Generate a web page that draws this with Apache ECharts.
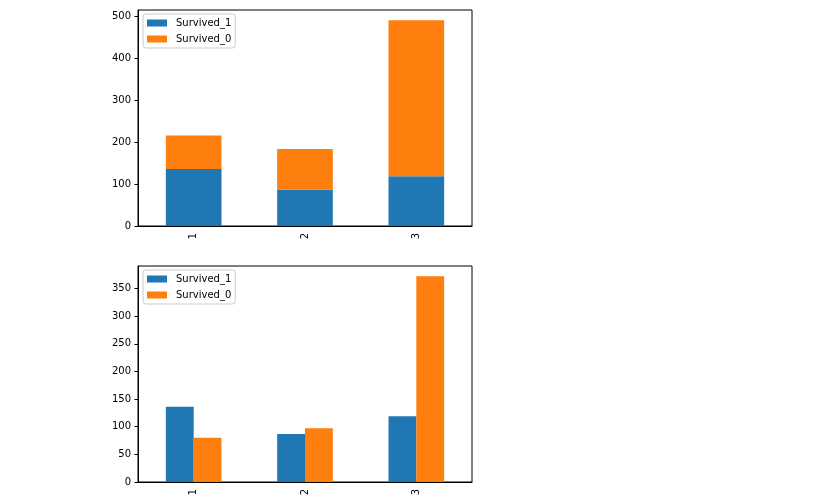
<!DOCTYPE html>
<html>
<head>
<meta charset="utf-8">
<script src="https://cdn.jsdelivr.net/npm/echarts@6/dist/echarts.min.js"></script>
<style>
  html, body { margin: 0; padding: 0; background: #fff; }
  #chart { width: 827px; height: 501px; }
</style>
</head>
<body>
<div id="chart"></div>
<script>
const categories = ['1', '2', '3']
const survived1 = [136, 87, 119]
const survived0 = [80, 97, 372]
const stackedTicks = [0, 100, 200, 300, 400, 500]
const groupedTicks = [0, 50, 100, 150, 200, 250, 300, 350]

const BLUE = '#1f77b4'
const ORANGE = '#ff7f0e'
const FONT = 'DejaVu Sans'

const stackedTotals = categories.map((_, i) => survived1[i] + survived0[i])
const stackedMax = Math.max(...stackedTotals) * 1.05
const groupedMax = Math.max(...survived1, ...survived0) * 1.05

const chart = echarts.init(document.getElementById('chart'))

const xAxisFor = gridIndex => ({
  type: 'category',
  gridIndex,
  data: categories,
  axisLine: { lineStyle: { color: '#000', width: 1 } },
  axisTick: { alignWithLabel: true, length: 3.5, lineStyle: { color: '#000' } },
  axisLabel: { rotate: 90, color: '#000', fontFamily: FONT, fontSize: 10, margin: 7 }
})

const yAxisFor = (gridIndex, max, ticks) => ({
  type: 'value',
  gridIndex,
  min: 0,
  max,
  axisLine: { show: true, lineStyle: { color: '#000', width: 1 } },
  axisTick: { show: true, length: 3.5, customValues: ticks, lineStyle: { color: '#000' } },
  axisLabel: { customValues: ticks, color: '#000', fontFamily: FONT, fontSize: 10, margin: 7 },
  splitLine: { show: false }
})

const legendFor = top => ({
  orient: 'vertical',
  left: 143,
  top,
  padding: [3, 4, 3, 4],
  itemWidth: 20,
  itemHeight: 7,
  itemGap: 4,
  borderColor: '#ccc',
  borderWidth: 1,
  borderRadius: 3,
  backgroundColor: 'rgba(255,255,255,0.8)',
  textStyle: { color: '#000', fontFamily: FONT, fontSize: 10, lineHeight: 12, padding: [0, 0, 0, 4] },
  icon: 'rect',
  selectedMode: false
})

const option = {
  animation: false,
  backgroundColor: '#fff',
  grid: [
    { left: 138, top: 10, width: 334, height: 216, show: true, borderColor: '#000', borderWidth: 1, backgroundColor: 'transparent' },
    { left: 138, top: 266, width: 334, height: 216, show: true, borderColor: '#000', borderWidth: 1, backgroundColor: 'transparent' }
  ],
  legend: [
    { ...legendFor(14), data: ['Survived_1', 'Survived_0'] },
    { ...legendFor(270), data: ['Survived_1 ', 'Survived_0 '], formatter: n => n.trim() }
  ],
  xAxis: [xAxisFor(0), xAxisFor(1)],
  yAxis: [yAxisFor(0, stackedMax, stackedTicks), yAxisFor(1, groupedMax, groupedTicks)],
  series: [
    { name: 'Survived_1', type: 'bar', xAxisIndex: 0, yAxisIndex: 0, stack: 'total', barWidth: '50%', data: survived1, itemStyle: { color: BLUE } },
    { name: 'Survived_0', type: 'bar', xAxisIndex: 0, yAxisIndex: 0, stack: 'total', barWidth: '50%', data: survived0, itemStyle: { color: ORANGE } },
    { name: 'Survived_1 ', type: 'bar', xAxisIndex: 1, yAxisIndex: 1, barWidth: '25%', barGap: '0%', data: survived1, itemStyle: { color: BLUE } },
    { name: 'Survived_0 ', type: 'bar', xAxisIndex: 1, yAxisIndex: 1, barWidth: '25%', barGap: '0%', data: survived0, itemStyle: { color: ORANGE } }
  ]
}

chart.setOption(option)
</script>
</body>
</html>
